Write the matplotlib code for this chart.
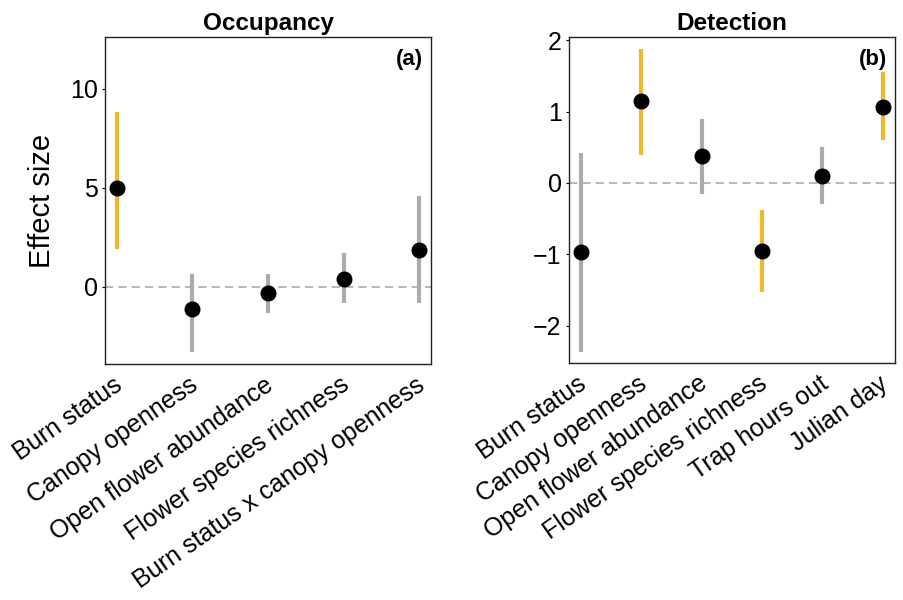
import matplotlib
matplotlib.use("Agg")
import matplotlib.pyplot as plt
from matplotlib.transforms import ScaledTranslation

plt.rcParams['font.family'] = ['Liberation Sans', 'DejaVu Sans']

# Occupancy model estimates
occ_labels = ["Burn status", "Canopy openness", "Open flower abundance",
              "Flower species richness", "Burn status x canopy openness"]
occ_est = [5.0, -1.1, -0.3, 0.4, 1.87]
occ_low = [1.9, -3.3, -1.3, -0.8, -0.8]
occ_high = [8.85, 0.65, 0.65, 1.7, 4.6]
occ_sig = [True, False, False, False, False]

# Detection model estimates
det_labels = ["Burn status", "Canopy openness", "Open flower abundance",
              "Flower species richness", "Trap hours out", "Julian day"]
det_est = [-0.96, 1.15, 0.38, -0.95, 0.10, 1.07]
det_low = [-2.37, 0.39, -0.15, -1.53, -0.30, 0.60]
det_high = [0.42, 1.87, 0.89, -0.38, 0.51, 1.55]
det_sig = [False, True, False, True, False, True]

YELLOW = "#F0B82C"
GREY = "#ABABAB"


def draw_panel(ax, labels, est, low, high, sig, title, tag, ylim, yticks, pad):
    x = list(range(len(labels)))
    ax.axhline(0, color=GREY, lw=1.2, ls=(0, (5, 3)), zorder=1)
    for i in x:
        ax.plot([i, i], [low[i], high[i]], color=YELLOW if sig[i] else GREY,
                lw=3, solid_capstyle='butt', zorder=2)
    ax.plot(x, est, 'o', color='black', ms=10.5, zorder=3)
    ax.set_xlim(-pad, len(labels) - 1 + pad)
    ax.set_ylim(*ylim)
    ax.set_yticks(yticks)
    ax.set_yticklabels([str(t).replace('-', '\u2212') for t in yticks])
    ax.set_xticks(x)
    ax.set_xticklabels(labels, rotation=35, ha='right', rotation_mode='anchor')
    ax.tick_params(axis='y', labelsize=18, length=2, width=0.8, pad=3)
    ax.tick_params(axis='x', labelsize=18, length=0, pad=6)
    # nudge the slanted labels a little left, as in the original
    shift = ScaledTranslation(-0.04, 0.0, ax.figure.dpi_scale_trans)
    for lab in ax.get_xticklabels():
        lab.set_transform(lab.get_transform() + shift)
    ax.set_title(title, fontsize=17.5, fontweight='bold', pad=5)
    ax.text(0.975, 0.965, tag, transform=ax.transAxes, ha='right', va='top',
            fontsize=16, fontweight='bold')
    for s in ax.spines.values():
        s.set_linewidth(1.0)
        s.set_color('#222222')


fig = plt.figure(figsize=(9.04, 6.0), dpi=100)
ax1 = fig.add_axes([0.116, 0.393, 0.361, 0.545])
ax2 = fig.add_axes([0.629, 0.395, 0.361, 0.543])

draw_panel(ax1, occ_labels, occ_est, occ_low, occ_high, occ_sig,
           "Occupancy", "(a)", (-3.9, 12.6), [0, 5, 10], 0.16)
draw_panel(ax2, det_labels, det_est, det_low, det_high, det_sig,
           "Detection", "(b)", (-2.52, 2.04), [-2, -1, 0, 1, 2], 0.2)
ax1.set_ylabel("Effect size", fontsize=21, labelpad=10)

fig.savefig("out.png", dpi=100)
